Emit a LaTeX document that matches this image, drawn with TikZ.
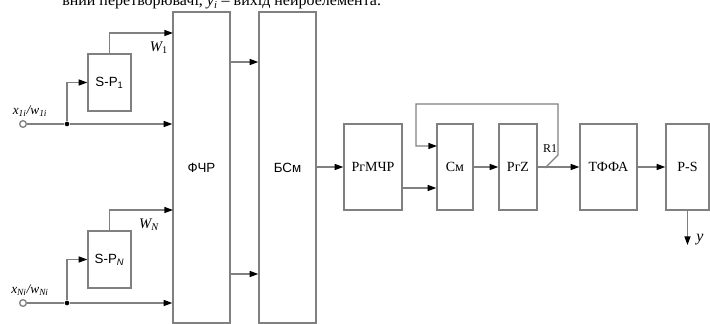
\documentclass[tikz,border=0pt]{standalone}
\usepackage{fontspec}
\setmainfont{Liberation Serif}
\setsansfont{Liberation Sans}
\usepackage{tikz}
\usetikzlibrary{arrows.meta, positioning}

\begin{document}
\begin{tikzpicture}[x=0.75pt,y=0.75pt,yscale=-1,xscale=1,
    ln/.style={draw={rgb,255:red,128;green,128;blue,128}, line width=1pt},
    arr/.style={ln, -{Triangle[length=6.5pt,width=4.5pt,fill=black,color=black]}},
    blk/.style={ln, rectangle, inner sep=0pt, font=\fontsize{10.5}{12}\selectfont},
    sblk/.style={blk, font=\sffamily\fontsize{10}{12}\selectfont},
    term/.style={circle, ln, fill=white, inner sep=0pt, minimum size=5pt},
    dot/.style={circle, fill=black, inner sep=0pt, minimum size=3.5pt},
    lbl/.style={inner sep=0pt, font=\itshape\fontsize{10}{12}\selectfont}]
\useasboundingbox (0,0) rectangle (710,324);
\clip (0,0) rectangle (710,324);

%caption line cut at the top
\node[anchor=base west, inner sep=0pt, font=\fontsize{12}{14}\selectfont] (cap) at (62,6) {вний перетворювачі, \textit{y}\textsubscript{\textit{i}} – вихід нейроелемента.};

%Blocks
\node[sblk, minimum width={57*0.75pt}, minimum height={311*0.75pt}] (FChR) at (201.5,167.5) {ФЧР};
\node[sblk, minimum width={57*0.75pt}, minimum height={311*0.75pt}] (BSm) at (287.5,167.5) {БСм};
\node[sblk, minimum width={43*0.75pt}, minimum height={57*0.75pt}] (SP1) at (109.5,82.5) {S-P\textsubscript{1}};
\node[sblk, minimum width={43*0.75pt}, minimum height={57*0.75pt}] (SPN) at (109.5,259.5) {S-P\textsubscript{\itshape N}};
\node[blk, minimum width={58*0.75pt}, minimum height={86*0.75pt}] (RgMChR) at (373,167) {РгМЧР};
\node[blk, minimum width={36*0.75pt}, minimum height={86*0.75pt}] (Sm) at (455,167) {См};
\node[blk, minimum width={38*0.75pt}, minimum height={86*0.75pt}] (RgZ) at (518,167) {РгZ};
\node[blk, minimum width={57*0.75pt}, minimum height={86*0.75pt}] (TFFA) at (608.5,167) {ТФФА};
\node[blk, minimum width={43*0.75pt}, minimum height={86*0.75pt}] (PS) at (687.5,167) {P-S};

%Inputs
\node[term] (in1) at (23,124) {};
\node[dot] (j1) at (67,124) {};
\node[term] (inN) at (23,303) {};
\node[dot] (jN) at (67,303) {};
\node[lbl, anchor=south] (x1) at (30,117) {x\textsubscript{1\textit{i}}/w\textsubscript{1\textit{i}}};
\node[lbl, anchor=south] (xN) at (30,296) {x\textsubscript{N\textit{i}}/w\textsubscript{N\textit{i}}};
\node[lbl, font=\itshape\fontsize{11}{12}\selectfont] (W1) at (159,48) {W\textsubscript{\upshape 1}};
\node[lbl, font=\itshape\fontsize{11}{12}\selectfont] (WN) at (149,225) {W\textsubscript{N}};

%Free ends
\coordinate (f1) at (173,33);
\coordinate (fN) at (173,210);
\coordinate (b1) at (230,62);
\coordinate (bN) at (230,274);
\coordinate (m1) at (402,188);
\coordinate (s1) at (437,146);
\coordinate (r1) at (545,168);
\coordinate (yout) at (687.5,245);

%Connectors
\draw[ln] (in1) -- (j1);
\draw[arr] (j1) -- (j1 -| FChR.west);
\draw[arr] (j1) |- (SP1.west);
\draw[arr] (SP1.north) |- (f1);
\draw[ln] (inN) -- (jN);
\draw[arr] (jN) -- (jN -| FChR.west);
\draw[arr] (jN) |- (SPN.west);
\draw[arr] (SPN.north) |- (fN);
\draw[arr] (b1) -- (b1 -| BSm.west);
\draw[arr] (bN) -- (bN -| BSm.west);
\draw[arr] (BSm.east |- RgMChR.west) -- (RgMChR.west);
\draw[arr] (m1) -- (m1 -| Sm.west);
\draw[arr] (Sm) -- (RgZ);
\draw[arr] (RgZ) -- (TFFA);
\draw[arr] (TFFA) -- (PS);
\draw[arr] (r1) -- ++(13,-13) |- (416,104) |- (s1);
\draw[arr] (PS.south) -- (yout);
\node[lbl, font=\fontsize{9}{10}\selectfont] (R1) at (550,149) {R1};
\node[lbl, anchor=west, font=\itshape\fontsize{12}{12}\selectfont] (y) at (696,240) {y};

\end{tikzpicture}
\end{document}
